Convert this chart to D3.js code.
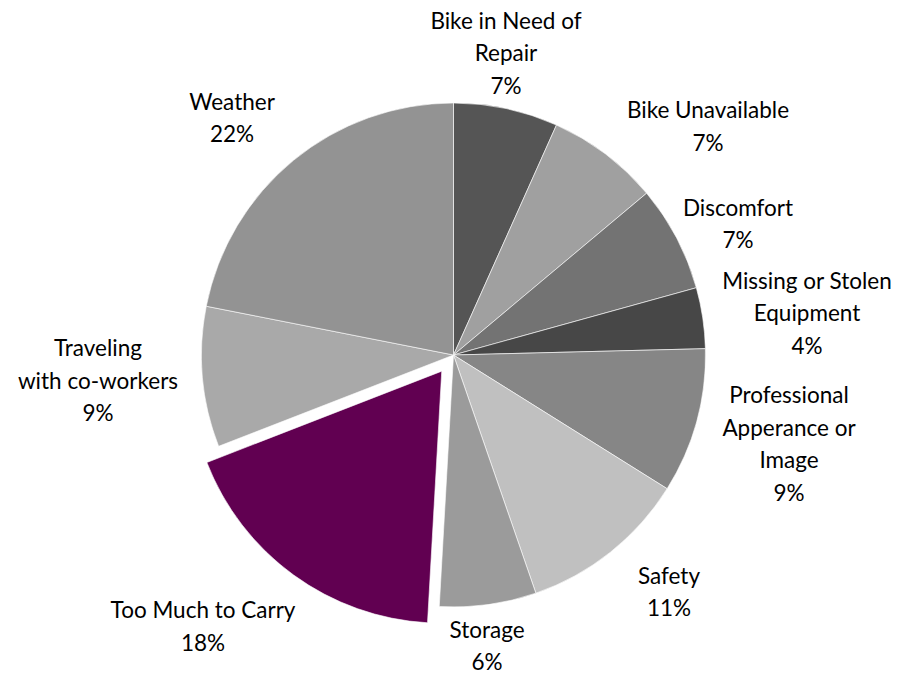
<!DOCTYPE html>
<html>
<head>
<meta charset="utf-8">
<script src="https://cdn.jsdelivr.net/npm/d3@7"></script>
<style>
  body { margin: 0; background: #fff; }
  svg text { font-family: Lato, "Open Sans", sans-serif; fill: #000; }
</style>
</head>
<body>
<svg id="chart" width="920" height="674"></svg>
<script>
// Data
const categories = ["Bike in Need of Repair", "Bike Unavailable", "Discomfort", "Missing or Stolen Equipment",
    "Professional Apperance or Image", "Safety", "Storage", "Too Much to Carry", "Traveling with co-workers", "Weather"];
const values = [6.7, 7.2, 6.8, 3.9, 9.3, 10.8, 6.2, 18.2, 9.0, 21.9];
const pctLabels = ["7%", "7%", "7%", "4%", "9%", "11%", "6%", "18%", "9%", "22%"];
const labelLines = [
    ["Bike in Need of", "Repair"],
    ["Bike Unavailable"],
    ["Discomfort"],
    ["Missing or Stolen", "Equipment"],
    ["Professional", "Apperance or", "Image"],
    ["Safety"],
    ["Storage"],
    ["Too Much to Carry"],
    ["Traveling", "with co-workers"],
    ["Weather"]
];
const colors = ["#555555", "#a0a0a0", "#737373", "#474747", "#868686", "#c0c0c0", "#9b9b9b", "#610051", "#a9a9a9", "#939393"];
const exploded = "Too Much to Carry";

// Layout
const cx = 453.5, cy = 355, radius = 252, explodeBy = 20;
const lineH = 32.5;
// label block centres, relative to pie centre
const labelOffsets = [[52.5, -301.5], [254.5, -228.5], [284.5, -131], [353.5, -41.5], [335.5, 89],
    [215.5, 237], [33.5, 291], [-250.5, 271.5], [-355.5, 26], [-221.5, -237]];

const svg = d3.select("#chart");
const g = svg.append("g").attr("transform", `translate(${cx},${cy})`);

const pie = d3.pie().sort(null).value(d => d.value);
const arc = d3.arc().innerRadius(0).outerRadius(radius);

const data = categories.map((c, i) => ({ name: c, value: values[i], color: colors[i], pct: pctLabels[i], lines: labelLines[i], off: labelOffsets[i] }));
const arcs = pie(data);

g.selectAll("path.slice")
    .data(arcs)
    .enter()
    .append("path")
    .attr("class", "slice")
    .attr("d", arc)
    .attr("fill", d => d.data.color)
    .attr("stroke", "#ffffff")
    .attr("stroke-width", 0.6)
    .attr("transform", d => {
        if (d.data.name !== exploded) return null;
        const mid = (d.startAngle + d.endAngle) / 2;
        return `translate(${Math.sin(mid) * explodeBy},${-Math.cos(mid) * explodeBy})`;
    });

// Labels
const labels = g.selectAll("text.label")
    .data(arcs)
    .enter()
    .append("text")
    .attr("class", "label")
    .attr("text-anchor", "middle")
    .attr("font-size", 22.5);

labels.each(function (d) {
    const lines = d.data.lines.concat([d.data.pct]);
    const top = d.data.off[1] - (lines.length - 1) * lineH / 2;
    const t = d3.select(this);
    lines.forEach((ln, k) => {
        t.append("tspan")
            .attr("x", d.data.off[0])
            .attr("y", top + k * lineH)
            .attr("dy", "0.35em")
            .text(ln);
    });
});
</script>
</body>
</html>
